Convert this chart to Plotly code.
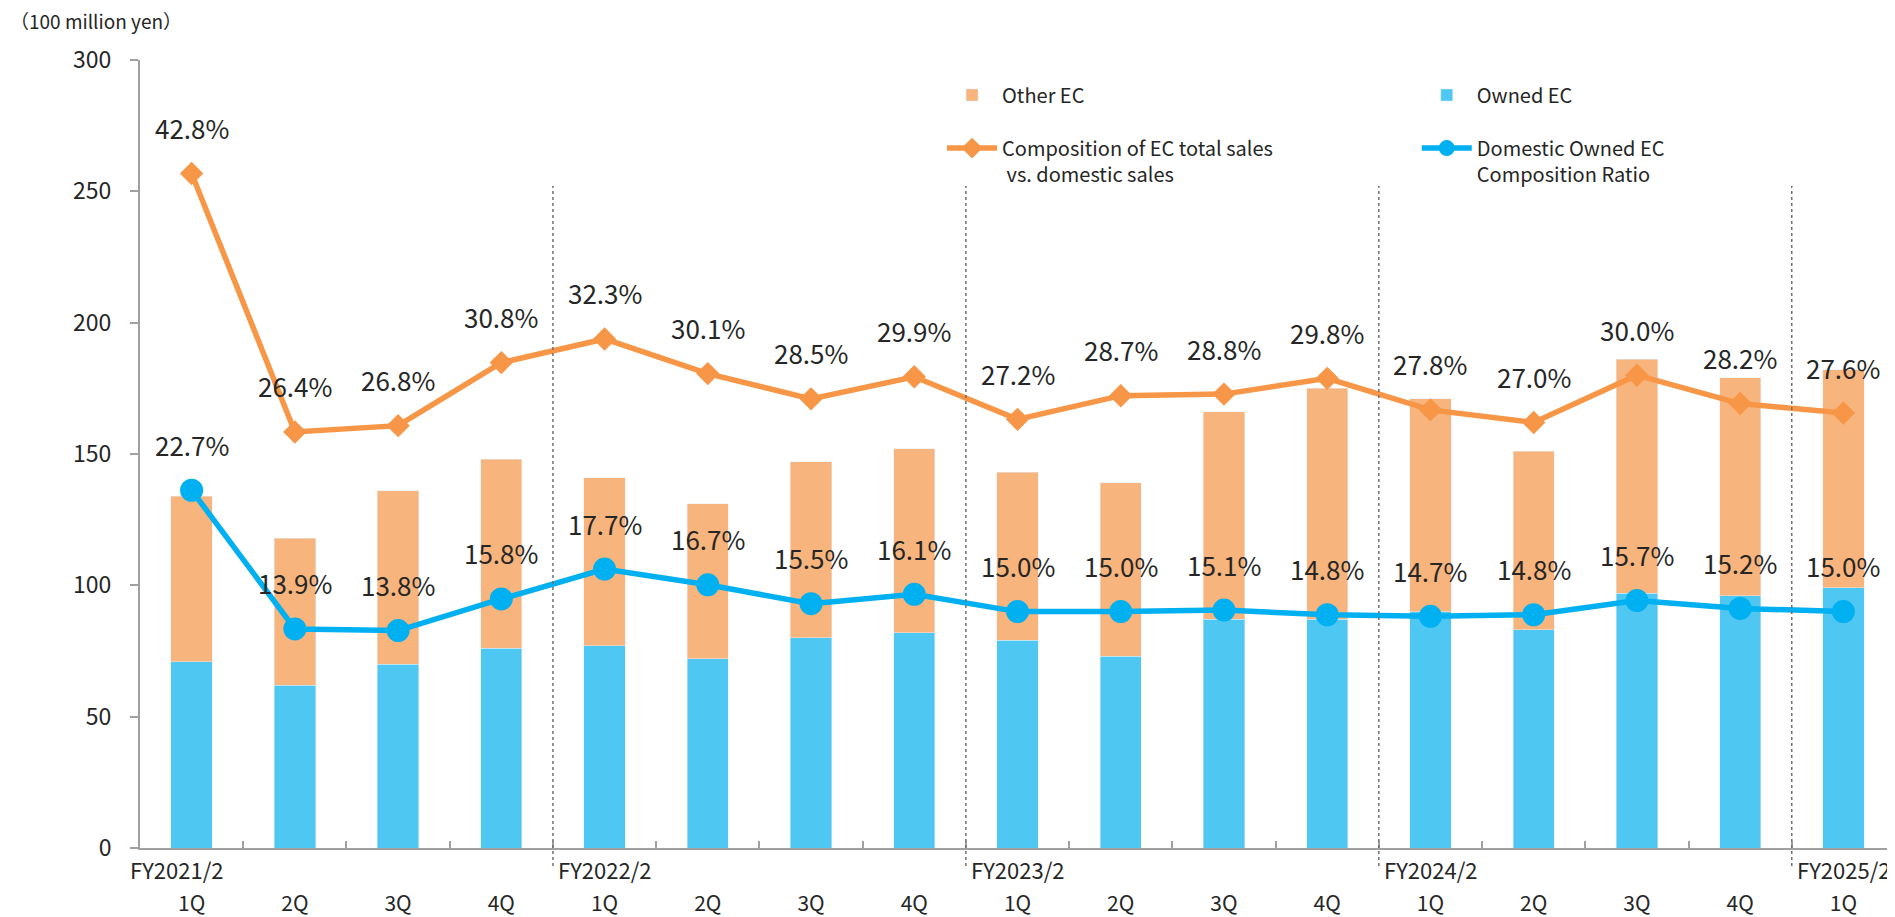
import plotly.graph_objects as go

# ---- data ----
fy_labels = ["FY2021/2", "FY2022/2", "FY2023/2", "FY2024/2", "FY2025/2"]
quarters_per_fy = [4, 4, 4, 4, 1]
quarter_labels = ["1Q", "2Q", "3Q", "4Q",
                  "1Q", "2Q", "3Q", "4Q",
                  "1Q", "2Q", "3Q", "4Q",
                  "1Q", "2Q", "3Q", "4Q",
                  "1Q"]
owned_ec = [71, 62, 70, 76, 77, 72, 80, 82, 79, 73, 87, 87, 90, 83, 97, 96, 99]
other_ec = [63, 56, 66, 72, 64, 59, 67, 70, 64, 66, 79, 88, 81, 68, 89, 83, 83]
ec_total_ratio = [42.8, 26.4, 26.8, 30.8, 32.3, 30.1, 28.5, 29.9, 27.2, 28.7,
                  28.8, 29.8, 27.8, 27.0, 30.0, 28.2, 27.6]
owned_ratio = [22.7, 13.9, 13.8, 15.8, 17.7, 16.7, 15.5, 16.1, 15.0, 15.0,
               15.1, 14.8, 14.7, 14.8, 15.7, 15.2, 15.0]
y_ticks = [0, 50, 100, 150, 200, 250, 300]

# category keys
cats = []
for fy, n in zip(fy_labels, quarters_per_fy):
    for q in range(n):
        cats.append(f"{fy} {q + 1}Q")

FONT = "Noto Sans CJK JP"
TXT = "#262626"
C_OTHER = "#F8B47D"
C_OWNED = "#4EC7F3"
C_LINE_O = "#F79646"
C_LINE_B = "#00B0F0"
AX = "#A0A0A0"

fig = go.Figure()
fig.add_trace(go.Bar(x=cats, y=owned_ec, name="Owned EC", marker_color=C_OWNED,
                     width=0.4, legend="legend2"))
fig.add_trace(go.Bar(x=cats, y=other_ec, name="Other EC", marker_color=C_OTHER,
                     width=0.4, legend="legend"))
fig.add_trace(go.Scatter(x=cats, y=ec_total_ratio, yaxis="y2", mode="lines+markers",
                         name="Composition of EC total sales<br> vs. domestic sales",
                         line=dict(color=C_LINE_O, width=5.5),
                         marker=dict(symbol="diamond", size=18, color=C_LINE_O),
                         legend="legend3"))
fig.add_trace(go.Scatter(x=cats, y=owned_ratio, yaxis="y2", mode="lines+markers",
                         name="Domestic Owned EC<br>Composition Ratio",
                         line=dict(color=C_LINE_B, width=5.5),
                         marker=dict(symbol="circle", size=23, color=C_LINE_B),
                         legend="legend4"))

annotations = []
for series in (ec_total_ratio, owned_ratio):
    for c, v in zip(cats, series):
        annotations.append(dict(x=c, y=v, xref="x", yref="y2", text=f"{v:.1f}%",
                                showarrow=False, yshift=46,
                                font=dict(family=FONT, size=26, color=TXT)))

# FY group labels and separators
shapes = []
start = 0
for i, (fy, n) in enumerate(zip(fy_labels, quarters_per_fy)):
    annotations.append(dict(x=start - 0.5, y=-0.027, xref="x", yref="paper",
                            text=fy, showarrow=False, xanchor="left", yanchor="middle",
                            xshift=(-12 if i == 0 else 3),
                            font=dict(family=FONT, size=22, color=TXT)))
    if i > 0:
        shapes.append(dict(type="line", xref="x", yref="paper",
                           x0=start - 0.5, x1=start - 0.5, y0=-0.023, y1=0.84,
                           line=dict(color="#707070", width=1.5, dash="dot")))
    start += n

annotations.append(dict(x=-0.0752, y=1.05, xref="paper", yref="paper",
                        text="（100 million yen）", showarrow=False,
                        xanchor="left", yanchor="middle",
                        font=dict(family=FONT, size=19, color=TXT)))

leg_font = dict(family=FONT, size=20, color=TXT)
# page body has an 8px margin, so the figure is sized/offset to compensate
fig.update_layout(
    width=1887, height=909,
    margin=dict(l=132, r=0, t=52, b=69),
    paper_bgcolor="white", plot_bgcolor="white",
    barmode="stack",
    font=dict(family=FONT, color=TXT),
    showlegend=True,
    legend=dict(x=0.457, y=0.9556, xanchor="left", yanchor="middle", font=leg_font,
                bgcolor="rgba(0,0,0,0)", itemwidth=50),
    legend2=dict(x=0.7275, y=0.9556, xanchor="left", yanchor="middle", font=leg_font,
                 bgcolor="rgba(0,0,0,0)", itemwidth=50),
    legend3=dict(x=0.457, y=0.913, xanchor="left", yanchor="top", font=leg_font,
                 bgcolor="rgba(0,0,0,0)", itemwidth=50, valign="top"),
    legend4=dict(x=0.7275, y=0.913, xanchor="left", yanchor="top", font=leg_font,
                 bgcolor="rgba(0,0,0,0)", itemwidth=50, valign="top"),
    xaxis=dict(type="category", categoryorder="array", categoryarray=cats,
               range=[-0.5, len(cats) - 0.5], automargin=False,
               tickvals=cats, ticktext=quarter_labels,
               tickson="boundaries", ticks="inside", ticklen=7, tickcolor=AX, tickwidth=1.5,
               showline=True, linecolor=AX, linewidth=2,
               ticklabelstandoff=36,
               tickfont=dict(family=FONT, size=21, color=TXT),
               showgrid=False, zeroline=False, fixedrange=True),
    yaxis=dict(range=[0, 300], tickvals=y_ticks, automargin=False,
               ticks="outside", ticklen=8, tickcolor=AX, tickwidth=2,
               showline=True, linecolor=AX, linewidth=2,
               ticklabelstandoff=14,
               tickfont=dict(family=FONT, size=23, color=TXT),
               showgrid=False, zeroline=False),
    yaxis2=dict(range=[0, 50], overlaying="y", side="right", visible=False,
                showgrid=False, automargin=False),
    annotations=annotations,
    shapes=shapes,
)

fig.write_html("out.html")
